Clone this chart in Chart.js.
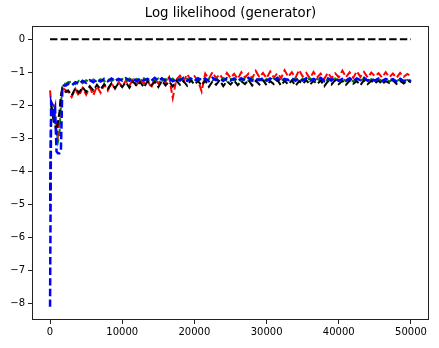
<!DOCTYPE html>
<html>
<head>
<meta charset="utf-8">
<script src="https://cdn.jsdelivr.net/npm/chart.js@4"></script>
<style>
  html, body { margin: 0; padding: 0; background: #fff; }
</style>
</head>
<body>
<canvas id="ll-chart" width="439" height="348"></canvas>
<script>
// Iterations
const iterations = [0, 150, 300, 500, 700, 900, 1100, 1300, 1500, 1700, 1900, 2200, 2500,
  3000, 3500, 4000, 4500, 5000, 5500, 6000, 6500, 7000, 7500, 8000, 8500, 9000, 9500, 10000,
  10500, 11000, 11500, 12000, 12500, 13000, 13500, 14000, 14500, 15000,
  15500, 16000, 16500, 17000, 17500, 18000, 18500, 19000, 19500, 20000,
  20500, 21000, 21500, 22000, 22500, 23000, 23500, 24000, 24500, 25000,
  25500, 26000, 26500, 27000, 27500, 28000, 28500, 29000, 29500, 30000,
  30500, 31000, 31500, 32000, 32500, 33000, 33500, 34000, 34500, 35000,
  35500, 36000, 36500, 37000, 37500, 38000, 38500, 39000, 39500, 40000,
  40500, 41000, 41500, 42000, 42500, 43000, 43500, 44000, 44500, 45000,
  45500, 46000, 46500, 47000, 47500, 48000, 48500, 49000, 49500, 50000];

const redVals = [-1.55, -1.9, -1.95, -2.0, -2.3, -2.6, -2.9, -2.5, -1.8, -1.45, -1.5, -1.55, -1.6,
  -1.75, -1.50, -1.72, -1.48, -1.68, -1.45, -1.70, -1.42, -1.62, -1.38, -1.56, -1.33, -1.50, -1.30, -1.44,
  -1.25, -1.40, -1.22, -1.38, -1.20, -1.35, -1.22, -1.48, -1.20, -1.34,
  -1.18, -1.32, -1.15, -1.78, -1.22, -1.10, -1.28, -1.06, -1.24, -1.12,
  -1.25, -1.58, -1.04, -1.20, -1.00, -1.18, -1.06, -1.22, -1.02, -1.17,
  -1.05, -1.20, -1.00, -1.16, -1.04, -1.19, -0.96, -1.15, -1.02, -1.18,
  -0.98, -1.16, -1.03, -1.18, -0.94, -1.14, -1.00, -1.17, -0.93, -1.13,
  -1.02, -1.19, -0.99, -1.16, -1.04, -1.20, -1.01, -1.18, -1.03, -1.15,
  -0.95, -1.15, -1.00, -1.17, -0.97, -1.14, -0.99, -1.16, -1.01, -1.12,
  -1.03, -1.16, -1.00, -1.15, -1.04, -1.17, -1.02, -1.14, -1.05, -1.12];

const greenVals = [-5.2, -2.0, -2.1, -2.3, -2.5, -2.8, -3.1, -2.9, -2.0, -1.45, -1.35, -1.35, -1.3,
  -1.28, -1.36, -1.26, -1.33, -1.24, -1.30, -1.22, -1.29, -1.21, -1.28, -1.20, -1.27, -1.19, -1.26, -1.20,
  -1.27, -1.19, -1.26, -1.20, -1.28, -1.18, -1.25, -1.21, -1.27, -1.19,
  -1.26, -1.20, -1.28, -1.19, -1.30, -1.18, -1.25, -1.20, -1.27, -1.19,
  -1.26, -1.18, -1.27, -1.20, -1.25, -1.19, -1.28, -1.18, -1.26, -1.20,
  -1.25, -1.19, -1.27, -1.18, -1.26, -1.20, -1.28, -1.19, -1.30, -1.20,
  -1.26, -1.18, -1.25, -1.20, -1.27, -1.19, -1.26, -1.18, -1.28, -1.20,
  -1.25, -1.19, -1.27, -1.20, -1.26, -1.31, -1.20, -1.27, -1.19, -1.26,
  -1.20, -1.27, -1.19, -1.28, -1.20, -1.26, -1.18, -1.27, -1.21, -1.26,
  -1.20, -1.27, -1.21, -1.28, -1.22, -1.27, -1.21, -1.28, -1.23, -1.27];

const blackVals = [-4.9, -2.0, -2.2, -2.5, -2.6, -2.8, -2.5, -2.2, -1.7, -1.5, -1.55, -1.6, -1.55,
  -1.70, -1.48, -1.62, -1.45, -1.60, -1.42, -1.55, -1.38, -1.52, -1.36, -1.50, -1.34, -1.48, -1.33, -1.45,
  -1.30, -1.47, -1.28, -1.42, -1.30, -1.46, -1.27, -1.40, -1.29, -1.45,
  -1.26, -1.40, -1.28, -1.43, -1.25, -1.38, -1.27, -1.41, -1.24, -1.37,
  -1.27, -1.40, -1.25, -1.44, -1.28, -1.38, -1.24, -1.42, -1.27, -1.37,
  -1.25, -1.39, -1.27, -1.36, -1.23, -1.40, -1.26, -1.37, -1.24, -1.39,
  -1.27, -1.36, -1.24, -1.40, -1.26, -1.37, -1.25, -1.41, -1.27, -1.35,
  -1.24, -1.38, -1.26, -1.36, -1.25, -1.42, -1.27, -1.37, -1.24, -1.36,
  -1.26, -1.38, -1.25, -1.35, -1.27, -1.39, -1.24, -1.36, -1.26, -1.34,
  -1.25, -1.36, -1.27, -1.33, -1.24, -1.35, -1.26, -1.34, -1.25, -1.31];

const blueVals = [-8.1, -1.9, -2.0, -2.3, -2.1, -3.4, -3.45, -3.45, -3.4, -1.5, -1.4, -1.4, -1.35,
  -1.40, -1.30, -1.36, -1.26, -1.32, -1.24, -1.30, -1.22, -1.28, -1.20, -1.27, -1.19, -1.26, -1.20, -1.25,
  -1.18, -1.26, -1.19, -1.27, -1.18, -1.25, -1.20, -1.27, -1.17, -1.25,
  -1.19, -1.26, -1.18, -1.27, -1.20, -1.25, -1.17, -1.26, -1.19, -1.27,
  -1.18, -1.25, -1.19, -1.27, -1.17, -1.24, -1.20, -1.26, -1.18, -1.25,
  -1.19, -1.27, -1.18, -1.25, -1.17, -1.26, -1.20, -1.24, -1.18, -1.26,
  -1.19, -1.25, -1.17, -1.27, -1.20, -1.24, -1.18, -1.26, -1.19, -1.25,
  -1.18, -1.26, -1.20, -1.25, -1.17, -1.27, -1.19, -1.24, -1.18, -1.26,
  -1.20, -1.25, -1.18, -1.27, -1.19, -1.24, -1.17, -1.26, -1.20, -1.25,
  -1.19, -1.27, -1.20, -1.25, -1.21, -1.28, -1.20, -1.27, -1.22, -1.27];

// reference line
const zeroX = [0, 50000];
const zeroVals = [0, 0];

const xTicks = [0, 10000, 20000, 30000, 40000, 50000];
const yTicks = [0, -1, -2, -3, -4, -5, -6, -7, -8];

const titleText = 'Log likelihood (generator)';

function points(xs, ys) {
    return xs.map((x, i) => ({ x: x, y: ys[i] }));
}

function serie(data, color, order, width) {
    return {
        data: data,
        borderColor: color,
        borderWidth: width,
        borderDash: [7.4, 3.2],
        pointRadius: 0,
        fill: false,
        tension: 0,
        order: order
    };
}

// cadre + titre facon matplotlib
const cadre = {
    id: 'cadre',
    afterDraw(chart) {
        const a = chart.chartArea;
        const ctx = chart.ctx;
        ctx.save();
        ctx.strokeStyle = '#222';
        ctx.lineWidth = 1;
        ctx.strokeRect(Math.round(a.left) + 0.5, Math.round(a.top) + 0.5,
            Math.round(a.right - a.left) - 1, Math.round(a.bottom - a.top) - 1);
        ctx.fillStyle = '#000';
        ctx.font = '13.3px "DejaVu Sans"';
        ctx.textAlign = 'center';
        ctx.textBaseline = 'middle';
        ctx.fillText(titleText, (a.left + a.right) / 2, 14);
        ctx.restore();
    }
};

const fmt = v => String(v).replace('-', '\u2212');

const ctx = document.getElementById('ll-chart').getContext('2d');
const chart = new Chart(ctx, {
    type: 'line',
    data: {
        datasets: [
            serie(points(zeroX, zeroVals), '#000000', 5, 2),
            serie(points(iterations, redVals), '#ff0000', 4, 2),
            serie(points(iterations, greenVals), '#008000', 3, 2),
            serie(points(iterations, blackVals), '#000000', 2, 2),
            serie(points(iterations, blueVals), '#0000ff', 1, 2.5)
        ]
    },
    options: {
        responsive: false,
        animation: false,
        devicePixelRatio: 1,
        layout: { padding: { top: 26, right: 10, left: 0, bottom: 0 } },
        plugins: {
            legend: { display: false },
            tooltip: { enabled: false },
            title: { display: false }
        },
        scales: {
            x: {
                type: 'linear',
                min: -2500,
                max: 52500,
                afterBuildTicks: s => { s.ticks = xTicks.map(v => ({ value: v })); },
                afterFit: s => { s.height = 28; },
                grid: { drawOnChartArea: false, tickLength: 4, color: '#222' },
                border: { display: false },
                ticks: {
                    color: '#000',
                    font: { family: 'DejaVu Sans', size: 10 },
                    padding: 2,
                    maxRotation: 0,
                    callback: v => fmt(v)
                }
            },
            y: {
                type: 'linear',
                min: -8.5,
                max: 0.4,
                afterBuildTicks: s => { s.ticks = yTicks.map(v => ({ value: v })); },
                afterFit: s => { s.width = 32; },
                grid: { drawOnChartArea: false, tickLength: 4, color: '#222' },
                border: { display: false },
                ticks: {
                    color: '#000',
                    font: { family: 'DejaVu Sans', size: 10 },
                    padding: 3,
                    callback: v => fmt(v)
                }
            }
        }
    },
    plugins: [cadre]
});
</script>
</body>
</html>
